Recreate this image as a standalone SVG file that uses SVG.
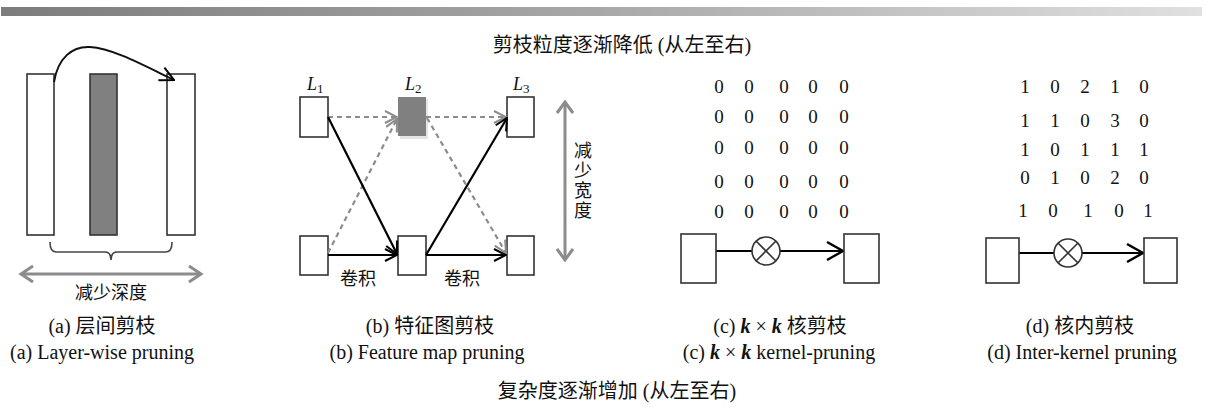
<svg xmlns="http://www.w3.org/2000/svg" width="1208" height="414" viewBox="0 0 1208 414">
<style>
text{font-family:"Liberation Serif","Noto Sans CJK SC",serif;font-size:18px;fill:#111;}
.c{text-anchor:middle;}
.cap{text-anchor:middle;font-size:20px;}
.box{fill:#fff;stroke:#333;stroke-width:1.6;}
.gbox{fill:#808080;stroke:#333;stroke-width:1.6;}
.blk{fill:none;stroke:#000;stroke-width:2.2;}
.gd{fill:none;stroke:#8c8c8c;stroke-width:2.2;stroke-dasharray:5 4;}
.gs{fill:none;stroke:#8c8c8c;stroke-width:3;}
.num{text-anchor:middle;font-size:19px;}
</style>
<defs>
<linearGradient id="bar" x1="0" y1="0" x2="1" y2="0">
<stop offset="0" stop-color="#7c7c7c"/>
<stop offset="0.5" stop-color="#a8a8a8"/>
<stop offset="1" stop-color="#e0e0e0"/>
</linearGradient>
<marker id="ab" viewBox="0 0 14 14" refX="13" refY="7" markerWidth="14" markerHeight="14" markerUnits="userSpaceOnUse" orient="auto">
<path d="M1,1 L13,7 L1,13" fill="none" stroke="#000" stroke-width="2"/>
</marker>
<marker id="ag" viewBox="0 0 14 14" refX="13" refY="7" markerWidth="14" markerHeight="14" markerUnits="userSpaceOnUse" orient="auto">
<path d="M1,1 L13,7 L1,13" fill="none" stroke="#8c8c8c" stroke-width="2"/>
</marker>
<marker id="abM" viewBox="0 0 16 16" refX="15" refY="8" markerWidth="16" markerHeight="16" markerUnits="userSpaceOnUse" orient="auto">
<path d="M1,1 L15,8 L1,15" fill="none" stroke="#000" stroke-width="2"/>
</marker>
<marker id="abL" viewBox="0 0 20 20" refX="18" refY="10" markerWidth="20" markerHeight="20" markerUnits="userSpaceOnUse" orient="auto">
<path d="M2,1 L18,10 L2,19" fill="none" stroke="#000" stroke-width="2.4"/>
</marker>
</defs>
<rect x="0" y="0" width="1208" height="414" fill="#fff"/>
<rect x="1" y="7" width="1201" height="9" fill="url(#bar)"/>

<text class="cap" x="622" y="52">剪枝粒度逐渐降低 (从左至右)</text>

<!-- panel a -->
<g id="a-layer1"><rect class="box" x="27" y="74" width="27" height="161"/></g>
<g id="a-layer2"><rect class="gbox" x="90" y="74" width="27" height="161"/></g>
<g id="a-layer3"><rect class="box" x="167" y="74" width="28" height="161"/></g>
<g id="a-brace"><path d="M50,242 Q50,252 56,252 L105,252 Q111,252 111,260 Q111,252 117,252 L166,252 Q172,252 172,242" fill="none" stroke="#444" stroke-width="1.6"/></g>
<g id="a-depth">
<path class="gs" d="M22,274 L200,274"/>
<path class="gs" d="M33,266 L21,274 L33,282 M189,266 L201,274 L189,282"/>
<text class="c" x="111" y="299" font-size="19">减少深度</text>
</g>

<!-- panel b -->
<g id="b-L1top"><rect class="box" x="300" y="97" width="28" height="40"/><text x="307" y="90" font-style="italic" font-size="19">L<tspan font-style="normal" font-size="13" dy="3">1</tspan></text></g>
<g id="b-L2top"><rect x="400" y="99" width="28" height="40" fill="#ccc" opacity="0.5"/><rect x="398" y="97" width="28" height="39" fill="#808080"/><text x="405" y="90" font-style="italic" font-size="19">L<tspan font-style="normal" font-size="13" dy="3">2</tspan></text></g>
<g id="b-L3top"><rect class="box" x="507" y="97" width="27" height="40"/><text x="513" y="90" font-style="italic" font-size="19">L<tspan font-style="normal" font-size="13" dy="3">3</tspan></text></g>
<g id="b-L1bot"><rect class="box" x="300" y="236" width="28" height="39"/></g>
<g id="b-L2bot"><rect class="box" x="398" y="236" width="28" height="39"/></g>
<g id="b-L3bot"><rect class="box" x="507" y="236" width="27" height="39"/></g>
<g id="connectors">
<path class="gd" d="M328,117 L397,117" marker-end="url(#ag)"/>
<path class="gd" d="M426,117 L506,117" marker-end="url(#ag)"/>
<path class="gd" d="M328,253 L397,119" marker-end="url(#ag)"/>
<path class="gd" d="M427,118 L506,253" marker-end="url(#ag)"/>
<path class="blk" d="M328,117 L397,254" marker-end="url(#ab)"/>
<path class="blk" d="M328,255 L397,255" marker-end="url(#ab)"/>
<path class="blk" d="M426,255 L507,118" marker-end="url(#ab)"/>
<path class="blk" d="M426,255 L506,255" marker-end="url(#ab)"/>
<path d="M54,82 C58,58 72,46 90,47 C112,48 145,66 174,80" fill="none" stroke="#111" stroke-width="2" marker-end="url(#abM)"/>
<path class="blk" d="M716,251 L752,251 M780,251 L843,251" marker-end="url(#abL)"/>
<path class="blk" d="M1019,253 L1054,253 M1082,253 L1143,253" marker-end="url(#abL)"/>
</g>
<text class="c" x="358" y="285" font-size="19">卷积</text>
<text class="c" x="462" y="285" font-size="19">卷积</text>
<g id="b-width">
<path class="gs" d="M565,103 L565,259"/>
<path class="gs" d="M557,113 L565,102 L573,113 M557,249 L565,260 L573,249"/>
<text class="c" x="583" y="157" font-size="19">减</text>
<text class="c" x="583" y="177" font-size="19">少</text>
<text class="c" x="583" y="197" font-size="19">宽</text>
<text class="c" x="583" y="217" font-size="19">度</text>
</g>

<!-- panel c -->
<g id="c-matrix">
<text class="num" y="93"><tspan x="719">0</tspan><tspan x="749">0</tspan><tspan x="784">0</tspan><tspan x="813">0</tspan><tspan x="844">0</tspan></text>
<text class="num" y="123"><tspan x="719">0</tspan><tspan x="749">0</tspan><tspan x="784">0</tspan><tspan x="813">0</tspan><tspan x="844">0</tspan></text>
<text class="num" y="154"><tspan x="719">0</tspan><tspan x="749">0</tspan><tspan x="784">0</tspan><tspan x="813">0</tspan><tspan x="844">0</tspan></text>
<text class="num" y="188"><tspan x="719">0</tspan><tspan x="749">0</tspan><tspan x="784">0</tspan><tspan x="813">0</tspan><tspan x="844">0</tspan></text>
<text class="num" y="218"><tspan x="719">0</tspan><tspan x="749">0</tspan><tspan x="784">0</tspan><tspan x="813">0</tspan><tspan x="844">0</tspan></text>
</g>
<g id="c-in"><rect class="box" x="681" y="234" width="35" height="49"/></g>
<g id="c-op"><circle cx="766" cy="251" r="14" fill="#fff" stroke="#333" stroke-width="1.6"/><path d="M756,241 L776,261 M776,241 L756,261" stroke="#333" stroke-width="1.6"/></g>
<g id="c-out"><rect class="box" x="844" y="234" width="35" height="49"/></g>

<!-- panel d -->
<g id="d-matrix">
<text class="num" y="93"><tspan x="1025">1</tspan><tspan x="1055">0</tspan><tspan x="1085">2</tspan><tspan x="1115">1</tspan><tspan x="1144">0</tspan></text>
<text class="num" y="127"><tspan x="1025">1</tspan><tspan x="1055">1</tspan><tspan x="1085">0</tspan><tspan x="1115">3</tspan><tspan x="1144">0</tspan></text>
<text class="num" y="156"><tspan x="1025">1</tspan><tspan x="1055">0</tspan><tspan x="1085">1</tspan><tspan x="1115">1</tspan><tspan x="1144">1</tspan></text>
<text class="num" y="184"><tspan x="1025">0</tspan><tspan x="1055">1</tspan><tspan x="1085">0</tspan><tspan x="1115">2</tspan><tspan x="1144">0</tspan></text>
<text class="num" y="217"><tspan x="1023">1</tspan><tspan x="1053">0</tspan><tspan x="1088">1</tspan><tspan x="1119">0</tspan><tspan x="1148">1</tspan></text>
</g>
<g id="d-in"><rect class="box" x="986" y="238" width="33" height="45"/></g>
<g id="d-op"><circle cx="1068" cy="253" r="14" fill="#fff" stroke="#333" stroke-width="1.6"/><path d="M1058,243 L1078,263 M1078,243 L1058,263" stroke="#333" stroke-width="1.6"/></g>
<g id="d-out"><rect class="box" x="1144" y="238" width="33" height="45"/></g>

<!-- captions -->
<text class="cap" x="102" y="333">(a) 层间剪枝</text>
<text class="cap" x="102" y="359">(a) Layer-wise pruning</text>
<text class="cap" x="430" y="333">(b) 特征图剪枝</text>
<text class="cap" x="427" y="359">(b) Feature map pruning</text>
<text class="cap" x="780" y="333">(c) <tspan font-weight="bold" font-style="italic">k</tspan> × <tspan font-weight="bold" font-style="italic">k</tspan> 核剪枝</text>
<text class="cap" x="779" y="359">(c) <tspan font-weight="bold" font-style="italic">k</tspan> × <tspan font-weight="bold" font-style="italic">k</tspan> kernel-pruning</text>
<text class="cap" x="1080" y="333">(d) 核内剪枝</text>
<text class="cap" x="1082" y="359">(d) Inter-kernel pruning</text>
<text class="cap" x="617" y="398">复杂度逐渐增加 (从左至右)</text>
</svg>
